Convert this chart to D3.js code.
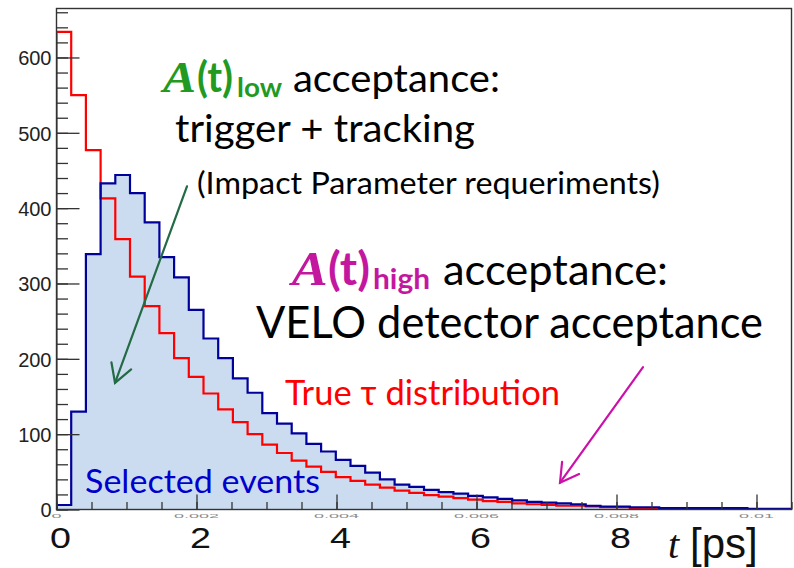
<!DOCTYPE html>
<html>
<head>
<meta charset="utf-8">
<script src="https://cdn.jsdelivr.net/npm/d3@7"></script>
<style>
  html, body { margin: 0; padding: 0; background: #ffffff; }
  svg { display: block; }
</style>
</head>
<body>
<svg id="chart" width="794" height="568"></svg>
<script>
// Decay-time histograms, 50 bins over 0 – 10.5 ps
const tRange = [0, 10.5];

// Selected events (after trigger, tracking and VELO acceptance)
const selectedEvents = [
  6, 130, 339, 433, 444, 420, 381, 335, 308, 265,
  227, 201, 174, 155, 128, 114, 101, 87, 77, 66,
  58, 49, 40, 33, 30, 26, 23, 21, 18, 16,
  14, 12, 10, 9, 8, 7, 5, 4, 4, 3,
  3, 2, 2, 2, 2, 2, 2, 1, 1, 1
];

// True decay-time distribution
const trueTau = [
  634, 550, 477, 413, 359, 309, 270, 234, 201, 176,
  154, 133, 116, 100, 86, 75, 65, 57, 50, 43,
  38, 33, 29, 25, 22, 19, 17, 15, 13, 11,
  10, 8, 7, 6, 5, 5, 4, 3, 3, 2,
  1, 0, 0, 0, 0, 0, 0, 0, 0, 0
];

// Axis ticks
const yMajorTicks = [0, 100, 200, 300, 400, 500, 600];
const yMinorTicks = d3.range(0, 661, 20);
const xMajorTicks = [0, 2, 4, 6, 8, 10];
const xMinorTicks = d3.range(0, 10.51, 0.5);
const xTickLabels = ["0", "2", "4", "6", "8"];
const xTickLabelValues = [0, 2, 4, 6, 8];
const nsTickLabels = ["0", "0.002", "0.004", "0.006", "0.008", "0.01"];
const nsTickValues = [0, 2, 4, 6, 8, 10];

const svg = d3.select("#chart");
const W = 794, H = 568;

const x = d3.scaleLinear().domain(tRange).range([56.5, 791.5]);
const y = d3.scaleLinear().domain([0, 665]).range([509.5, 8.5]);

const binWidth = (tRange[1] - tRange[0]) / selectedEvents.length;

function stepPoints(values) {
  const pts = [[tRange[0], 0]];
  values.forEach((v, i) => {
    const lo = tRange[0] + i * binWidth;
    pts.push([lo, v], [lo + binWidth, v]);
  });
  pts.push([tRange[1], 0]);
  return pts;
}

svg.append("rect").attr("width", W).attr("height", H).attr("fill", "#ffffff");

const defs = svg.append("defs");
defs.append("clipPath").attr("id", "plotClip")
  .append("rect")
  .attr("x", x(tRange[0])).attr("y", y(665))
  .attr("width", x(tRange[1]) - x(tRange[0]))
  .attr("height", y(0) - y(665));

// Histograms
const hist = svg.append("g").attr("clip-path", "url(#plotClip)");

const selPts = stepPoints(selectedEvents);
const truePts = stepPoints(trueTau);

hist.append("path")
  .attr("d", d3.area().x(d => x(d[0])).y0(y(0)).y1(d => y(d[1]))(selPts))
  .attr("fill", "#ccdcf0");

hist.append("path")
  .attr("d", d3.line().x(d => x(d[0])).y(d => y(d[1]))(truePts))
  .attr("fill", "none").attr("stroke", "#ff0000").attr("stroke-width", 2.2);

hist.append("path")
  .attr("d", d3.line().x(d => x(d[0])).y(d => y(d[1]))(selPts))
  .attr("fill", "none").attr("stroke", "#00009a").attr("stroke-width", 2.2);

// Frame
svg.append("rect")
  .attr("x", x(tRange[0])).attr("y", y(665))
  .attr("width", x(tRange[1]) - x(tRange[0]))
  .attr("height", y(0) - y(665))
  .attr("fill", "none").attr("stroke", "#333").attr("stroke-width", 1.4);

// Y axis: ticks pointing into the frame
const yMinorAxis = d3.axisLeft(y).tickValues(yMinorTicks).tickSize(-11.5).tickSizeOuter(0).tickFormat("");
const yMajorAxis = d3.axisLeft(y).tickValues(yMajorTicks).tickSize(-23).tickSizeOuter(0).tickPadding(5);

const gyMinor = svg.append("g").attr("transform", `translate(${x(0)},0)`).call(yMinorAxis);
const gyMajor = svg.append("g").attr("transform", `translate(${x(0)},0)`).call(yMajorAxis);
[gyMinor, gyMajor].forEach(g => {
  g.select(".domain").remove();
  g.selectAll(".tick line").attr("stroke", "#333").attr("stroke-width", 1.3);
});
gyMajor.selectAll(".tick text")
  .attr("font-family", "'Liberation Sans', Arial, sans-serif")
  .attr("font-size", 20).attr("fill", "#222").attr("dy", "0.36em");

// X axis: ticks pointing up into the frame
const xMinorAxis = d3.axisBottom(x).tickValues(xMinorTicks).tickSize(-7.5).tickSizeOuter(0).tickFormat("");
const xMajorAxis = d3.axisBottom(x).tickValues(xMajorTicks).tickSize(-15).tickSizeOuter(0).tickFormat("");
[xMinorAxis, xMajorAxis].forEach(ax => {
  const g = svg.append("g").attr("transform", `translate(0,${y(0)})`).call(ax);
  g.select(".domain").remove();
  g.selectAll(".tick line").attr("stroke", "#333").attr("stroke-width", 1.3);
});

// Original nanosecond labels: only a thin sliver of their tops shows
svg.append("g")
  .selectAll("g").data(nsTickValues).join("g")
  .attr("transform", d => `translate(${x(d)},518) scale(1,0.32)`)
  .append("text")
  .attr("text-anchor", "middle")
  .attr("font-family", "'Liberation Sans', Arial, sans-serif")
  .attr("font-size", 18).attr("fill", "#8a8a8a")
  .text((d, i) => nsTickLabels[i]);

// Picosecond labels
svg.append("g")
  .selectAll("g").data(xTickLabelValues).join("g")
  .attr("transform", d => `translate(${x(d) + 4},548) scale(1.3,1)`)
  .append("text")
  .attr("text-anchor", "middle")
  .attr("font-family", "'Liberation Sans', Arial, sans-serif")
  .attr("font-size", 29).attr("fill", "#111")
  .text((d, i) => xTickLabels[i]);

svg.append("text").attr("x", 668).attr("y", 558)
  .attr("font-family", "'Liberation Serif', 'Times New Roman', serif")
  .attr("font-style", "italic").attr("font-size", 40).attr("fill", "#111")
  .text("t");
svg.append("text").attr("x", 690).attr("y", 558)
  .attr("font-family", "'Liberation Sans', Arial, sans-serif")
  .attr("font-size", 42).attr("fill", "#111")
  .text("[ps]");

// Annotation text
const sans = "Lato, 'Open Sans', sans-serif";
function label(px, py, str, opts) {
  const t = svg.append("text").attr("x", px).attr("y", py)
    .attr("font-family", opts.family || sans)
    .attr("font-size", opts.size)
    .attr("fill", opts.fill || "#000")
    .text(str);
  if (opts.weight) t.attr("font-weight", opts.weight);
  if (opts.style) t.attr("font-style", opts.style);
  if (opts.width) t.attr("textLength", opts.width).attr("lengthAdjust", "spacingAndGlyphs");
  return t;
}

const green = "#229a22";
const magenta = "#c4179f";
const serifBI = "'Liberation Serif', 'Times New Roman', serif";

// Lower-time acceptance block
label(163, 91.7, "A", { family: serifBI, size: 45, weight: "bold", style: "italic", fill: green, width: 33 });
label(197, 91.7, "(t)", { size: 42, weight: "bold", fill: green, width: 36 });
label(237, 96.5, "low", { size: 26.5, weight: "bold", fill: green, width: 45 });
label(293, 91.7, "acceptance:", { size: 39.5, width: 207 });
label(175, 141.7, "trigger + tracking", { size: 39.5, width: 300 });
label(197, 193.5, "(Impact Parameter requeriments)", { size: 30.6, width: 463 });

// Upper-time acceptance block
label(291.7, 285, "A", { family: serifBI, size: 48, weight: "bold", style: "italic", fill: magenta, width: 36 });
label(328, 285, "(t)", { size: 45, weight: "bold", fill: magenta, width: 42 });
label(373, 289, "high", { size: 28, weight: "bold", fill: magenta, width: 57 });
label(443, 285, "acceptance:", { size: 43, width: 225 });
label(256, 338.3, "VELO detector acceptance", { size: 43.5, width: 507 });

label(285, 405, "True \u03c4 distribution", { size: 33.8, fill: "#ff0000", width: 275 });
label(85, 493.3, "Selected events", { size: 33.5, fill: "#0000cc", width: 235 });

// Arrows (given in data coordinates: t in ps, counts)
function arrow(from, to, color) {
  const x0 = x(from[0]), y0 = y(from[1]);
  const x1 = x(to[0]), y1 = y(to[1]);
  const ang = Math.atan2(y0 - y1, x0 - x1);
  const len = 21, spread = Math.PI / 6;
  const g = svg.append("g").attr("stroke", color).attr("stroke-width", 2.2)
    .attr("fill", "none").attr("stroke-linecap", "round");
  g.append("line").attr("x1", x0).attr("y1", y0).attr("x2", x1).attr("y2", y1);
  g.append("path").attr("d",
    `M${x1 + len * Math.cos(ang - spread)},${y1 + len * Math.sin(ang - spread)}` +
    `L${x1},${y1}` +
    `L${x1 + len * Math.cos(ang + spread)},${y1 + len * Math.sin(ang + spread)}`);
}
arrow([1.864, 429], [0.836, 168], "#236b45");
arrow([8.379, 189], [7.193, 35.6], "#cc11aa");
</script>
</body>
</html>
